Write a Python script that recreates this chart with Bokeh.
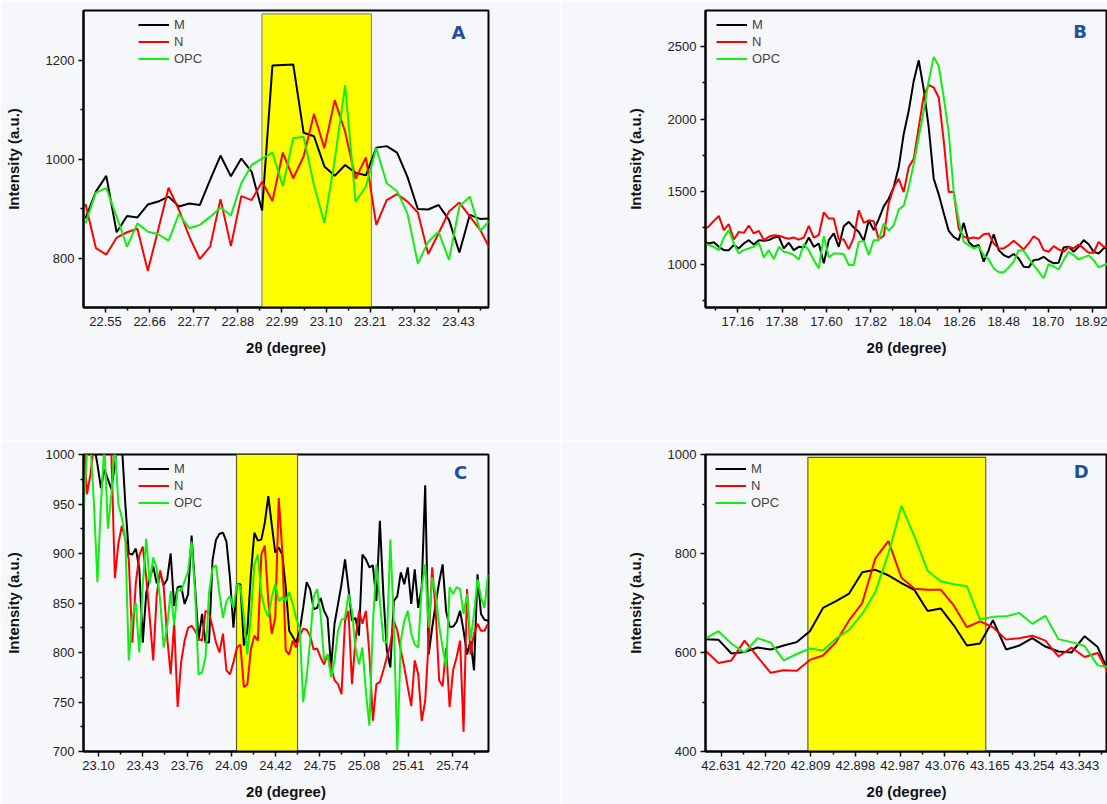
from bokeh.plotting import figure
from bokeh.layouts import gridplot
from bokeh.models import FixedTicker, PrintfTickFormatter, Label, Range1d
from bokeh.embed import file_html
from bokeh.resources import INLINE

SERIES = ["M", "N", "OPC"]
COLORS = ["#000000", "#ff0000", "#11ee11"]

# ---------------- Panel A ----------------
A_start, A_step = 22.500, 0.0259
A_M = [880, 934, 966, 852, 885, 882, 908, 914, 924, 904, 910, 907, 958, 1007, 965, 1001, 974, 896, 1189, 1190,
       1191, 1053, 1046, 985, 966, 988, 972, 967, 1023, 1026, 1013, 964, 899, 898, 907, 877, 811, 887, 879, 880]
A_N = [909, 820, 807, 841, 852, 859, 774, 857, 942, 897, 843, 798, 823, 919, 824, 925, 917, 954, 915, 1013,
       961, 1005, 1091, 1022, 1119, 1055, 960, 1003, 867, 917, 929, 914, 892, 808, 850, 894, 912, 884, 857, 816]
A_OPC = [870, 932, 941, 883, 823, 870, 853, 848, 835, 889, 860, 867, 883, 902, 886, 951, 988, 1001, 1013, 945,
         1042, 1045, 947, 871, 998, 1149, 914, 944, 1022, 951, 935, 890, 789, 833, 853, 796, 904, 924, 855, 877]
A_xticks = [22.55, 22.66, 22.77, 22.88, 22.99, 23.10, 23.21, 23.32, 23.43]
A_xminor = [22.605, 22.715, 22.825, 22.935, 23.045, 23.155, 23.265, 23.375, 23.485]
A_yticks = [800, 1000, 1200]
A_yminor = [900, 1100]
A_band = [22.94, 23.213, 700, 1293]

# ---------------- Panel B ----------------
B_start, B_step = 16.967, 0.0248
B_M = [1176, 1153, 1142, 1151, 1119, 1096, 1096, 1131, 1108, 1142, 1165, 1135, 1165, 1160, 1165, 1183, 1188,
       1108, 1147, 1096, 1119, 1115, 1183, 1119, 1142, 1005, 1165, 1211, 1119, 1261, 1291, 1252, 1222, 1160,
       1300, 1235, 1310,
       1398, 1451, 1531, 1669, 1898, 2058, 2264, 2406, 2207, 1943, 1589, 1481, 1353, 1229, 1188, 1165, 1284,
       1153, 1119, 1131, 1016, 1096, 1206, 1096, 1062, 1046, 1069, 1039, 982, 977, 1027, 1032, 1050, 1023,
       1005, 1009, 1115, 1119, 1085, 1119, 1165, 1137, 1085, 1073, 1108, 1119]
B_N = [1252, 1234, 1261, 1298, 1332, 1234, 1275, 1169, 1222, 1215, 1266, 1211, 1229, 1165, 1188, 1199, 1195,
       1183, 1174, 1183, 1169, 1183, 1263, 1183, 1199, 1357, 1314, 1314, 1169, 1169, 1103, 1183, 1371, 1284,
       1302, 1295, 1169,
       1195, 1420, 1531, 1588, 1497, 1669, 1726, 1943, 2161, 2237, 2218, 2150, 1852, 1497, 1497, 1245, 1188,
       1176, 1183, 1176, 1206, 1211, 1142, 1108, 1108, 1131, 1160, 1131, 1101, 1142, 1192, 1169, 1096, 1085,
       1124, 1101, 1085, 1119, 1108, 1135, 1108, 1078, 1078, 1153, 1119, 1119]
B_OPC = [1165, 1142, 1131, 1119, 1096, 1183, 1234, 1142, 1073, 1096, 1108, 1119, 1147, 1046, 1096, 1034, 1119,
         1085, 1078, 1062, 1032, 1137, 1096, 1027, 970, 1192, 1046, 1073, 1073, 1069, 993, 993, 1153, 1160,
         1062, 1165, 1165,
         1280, 1229, 1268, 1376, 1403, 1531, 1692, 1875, 2058, 2264, 2430, 2367, 2150, 1909, 1497, 1302, 1153,
         1131, 1108, 1119, 1062, 1032, 970, 945, 943, 977, 1016, 1096, 1092, 1039, 993, 947, 902, 1000, 982,
         963, 1027, 1085, 1062, 1032, 1046, 1060, 1027, 977, 993, 1005]
B_xticks = [17.16, 17.38, 17.60, 17.82, 18.04, 18.26, 18.48, 18.70, 18.92]
B_xminor = [17.05, 17.27, 17.49, 17.71, 17.93, 18.15, 18.37, 18.59, 18.81]
B_yticks = [1000, 1500, 2000, 2500]
B_yminor = [750, 1250, 1750, 2250]

# ---------------- Panel C ----------------
C_start, C_step = 22.988, 0.026
C_M = [1030, 1040, 1020, 1010, 990, 966, 985, 975, 965, 990, 1030,
       1010, 950, 900, 899, 905, 885, 810, 860, 875, 887, 870, 880, 868, 874, 900, 847, 866, 867, 849, 859,
       918, 866, 812, 839, 810, 810, 893, 914,
       920, 921, 912, 876, 825, 869, 869, 807, 822, 879, 921, 913, 914, 931, 958, 929, 901, 906, 899, 866,
       822, 816, 810, 822, 845, 871, 864, 844, 845, 855, 842, 835, 785, 829, 849, 869, 894, 865,
       832, 835, 817, 899, 894, 886, 888, 852, 933, 859, 802, 785, 852, 857, 881, 869, 886, 849, 884, 845,
       866, 969, 798, 825, 849, 871, 889, 842, 826, 826, 831, 842, 822, 798, 812, 782, 879, 839, 833, 832]
C_N = [1020, 960, 980, 1010, 1010, 1005, 1005, 1005, 1000, 875, 910, 928, 915, 893, 810, 870, 898, 907, 876,
       835, 792, 858, 883, 866, 815, 778, 830, 745, 790, 812, 825, 827, 822, 814, 812, 842, 840, 826, 810,
       800, 819, 782, 778, 790, 805, 808, 765, 768, 803, 817, 812, 899, 908, 852, 819, 835, 956, 903, 802,
       798, 812, 805, 817, 824, 823, 817, 803, 804, 795, 788, 798, 785, 772, 768, 758, 832, 842,
       768, 812, 842, 829, 842, 798, 731, 768, 770, 782, 795, 808, 832, 822, 802, 785, 765, 746, 792, 778,
       731, 751, 812, 886, 842, 772, 766, 805, 745, 782, 795, 812, 720, 864, 798, 819, 829, 822, 822, 829]
C_OPC = [945, 1000, 1010, 950, 871, 950, 1010, 925, 960, 1010, 950, 936, 915, 792, 835, 850, 800, 868, 915,
         870, 896, 885, 852, 805, 826, 862, 828, 864, 862, 872, 882, 912, 862, 778, 780, 795, 860, 885, 888,
         859, 835, 852, 857, 845, 869, 867, 835, 798, 837, 889, 899, 859, 844, 836, 856, 869, 852, 856, 852,
         861, 849, 834, 825, 750, 775, 812, 856, 864, 839, 792, 798, 775, 792, 822, 833, 835, 859,
         842, 805, 788, 805, 760, 726, 829, 889, 852, 812, 810, 914, 830, 701, 812, 832, 842, 819, 808, 805,
         866, 889, 825, 876, 859, 827, 805, 785, 866, 859, 866, 864, 839, 859, 812, 839, 874, 856, 845, 879]
C_xticks = [23.10, 23.43, 23.76, 24.09, 24.42, 24.75, 25.08, 25.41, 25.74]
C_xminor = [23.265, 23.595, 23.925, 24.255, 24.585, 24.915, 25.245, 25.575, 25.905]
C_yticks = [700, 750, 800, 850, 900, 950, 1000]
C_yminor = [725, 775, 825, 875, 925, 975]
C_band = [24.129, 24.584, 700, 1000]

# ---------------- Panel D ----------------
D_start, D_step = 42.5735, 0.026
D_M = [632, 627, 626, 598, 601, 610, 606, 614, 621, 643, 690, 704, 719, 762, 767, 756, 740, 726, 684, 689,
       655, 614, 618, 665, 606, 614, 629, 612, 602, 600, 633, 611, 550]
D_N = [618, 604, 579, 584, 624, 591, 559, 564, 563, 585, 594, 621, 665, 700, 790, 825, 751, 729, 727, 727,
       695, 651, 663, 651, 626, 629, 634, 624, 592, 610, 591, 599, 550]
D_OPC = [618, 628, 643, 618, 600, 629, 620, 584, 597, 608, 604, 628, 646, 678, 722, 800, 896, 834, 765, 744,
         738, 734, 667, 672, 673, 680, 658, 674, 627, 621, 613, 574, 570]
D_xticks = [42.631, 42.720, 42.809, 42.898, 42.987, 43.076, 43.165, 43.254, 43.343]
D_xminor = [42.6755, 42.7645, 42.8535, 42.9425, 43.0315, 43.1205, 43.2095, 43.2985, 43.3875]
D_yticks = [400, 600, 800, 1000]
D_yminor = [500, 700, 900]
D_band = [42.8035, 43.157, 400, 994]

BG = "#f6f7fb"
FONT = "Liberation Sans"


def grid(start, step, n):
    return [round(start + step * i, 4) for i in range(n)]


def panel(xs, ys_list, xr, yr, xt, xm, xfmt, yt, ym, band, band_line, letter, lxy,
          leg_x, w, h, bl, br, bt, bb):
    p = figure(width=w, height=h, x_range=Range1d(*xr), y_range=Range1d(*yr),
               output_backend="svg", toolbar_location=None,
               min_border_left=bl, min_border_right=br, min_border_top=bt, min_border_bottom=bb)
    p.background_fill_color = BG
    p.border_fill_color = BG
    p.outline_line_color = "black"
    p.outline_line_width = 2
    p.grid.visible = False
    if band is not None:
        p.quad(left=[band[0]], right=[band[1]], bottom=[band[2]], top=[band[3]],
               fill_color="#ffff00", line_color=band_line, line_width=1.2)
    for ys, name, col in zip(ys_list, SERIES, COLORS):
        p.line(xs, ys, line_color=col, line_width=2, legend_label=name)
    p.xaxis.ticker = FixedTicker(ticks=xt, minor_ticks=xm)
    p.yaxis.ticker = FixedTicker(ticks=yt, minor_ticks=ym)
    p.xaxis.formatter = PrintfTickFormatter(format=xfmt)
    for ax in (p.xaxis[0], p.yaxis[0]):
        ax.axis_line_width = 2
        ax.axis_line_color = "black"
        ax.major_tick_out = 5
        ax.major_tick_in = 0
        ax.minor_tick_out = 3
        ax.minor_tick_in = 0
        ax.major_tick_line_width = 1.5
        ax.minor_tick_line_width = 1.5
        ax.major_label_text_font = FONT
        ax.major_label_text_font_size = "13px"
        ax.major_label_text_color = "#222222"
        ax.axis_label_text_font = FONT
        ax.axis_label_text_font_style = "bold"
        ax.axis_label_text_font_size = "15px"
        ax.axis_label_text_color = "#111111"
        ax.major_label_standoff = 4
    p.xaxis.axis_label = "2θ (degree)"
    p.xaxis.axis_label_standoff = 10
    p.yaxis.axis_label = "Intensity (a.u.)"
    p.yaxis.axis_label_standoff = 21
    lg = p.legend[0]
    lg.background_fill_alpha = 0
    lg.border_line_color = None
    lg.padding = 0
    lg.margin = 0
    lg.spacing = 2
    lg.glyph_width = 31
    lg.glyph_height = 15
    lg.label_height = 15
    lg.label_standoff = 5
    lg.label_text_font = FONT
    lg.label_text_font_size = "13px"
    fh = h - bt - bb
    lg.location = (leg_x, fh - 6.5 - 49)
    p.add_layout(Label(x=lxy[0], y=lxy[1], text=letter, text_align="center", text_baseline="middle",
                       text_font="DejaVu Sans", text_font_style="bold", text_font_size="18px",
                       text_color="#1f4f9f"))
    return p


pA = panel(grid(A_start, A_step, len(A_M)), [A_M, A_N, A_OPC], (22.495, 23.505), (700, 1300),
           A_xticks, A_xminor, "%.2f", A_yticks, A_yminor, A_band, "#8a8a8a", "A", (23.43, 1256),
           55, 560, 440, 83, 72, 10, 133)
pB = panel(grid(B_start, B_step, len(B_M)), [B_M, B_N, B_OPC], (17.0, 18.995), (700, 2750),
           B_xticks, B_xminor, "%.2f", B_yticks, B_yminor, None, None, "B", (18.859, 2608),
           11, 547, 440, 145, 0, 10, 133)
pC = panel(grid(C_start, C_step, len(C_M)), [C_M, C_N, C_OPC], (22.988, 26.008), (700, 1000),
           C_xticks, C_xminor, "%.2f", C_yticks, C_yminor, C_band, "#5f5f2a", "C", (25.80, 982),
           55, 560, 364, 83, 72, 14, 53)
pD = panel(grid(D_start, D_step, len(D_M)), [D_M, D_N, D_OPC], (42.600, 43.399), (400, 1000),
           D_xticks, D_xminor, "%.3f", D_yticks, D_yminor, D_band, "#5f5f2a", "D", (43.347, 965),
           10, 547, 364, 145, 0, 14, 53)

layout = gridplot([[pA, pB], [pC, pD]], toolbar_location=None)
open("out.html", "w").write(file_html(layout, INLINE))
